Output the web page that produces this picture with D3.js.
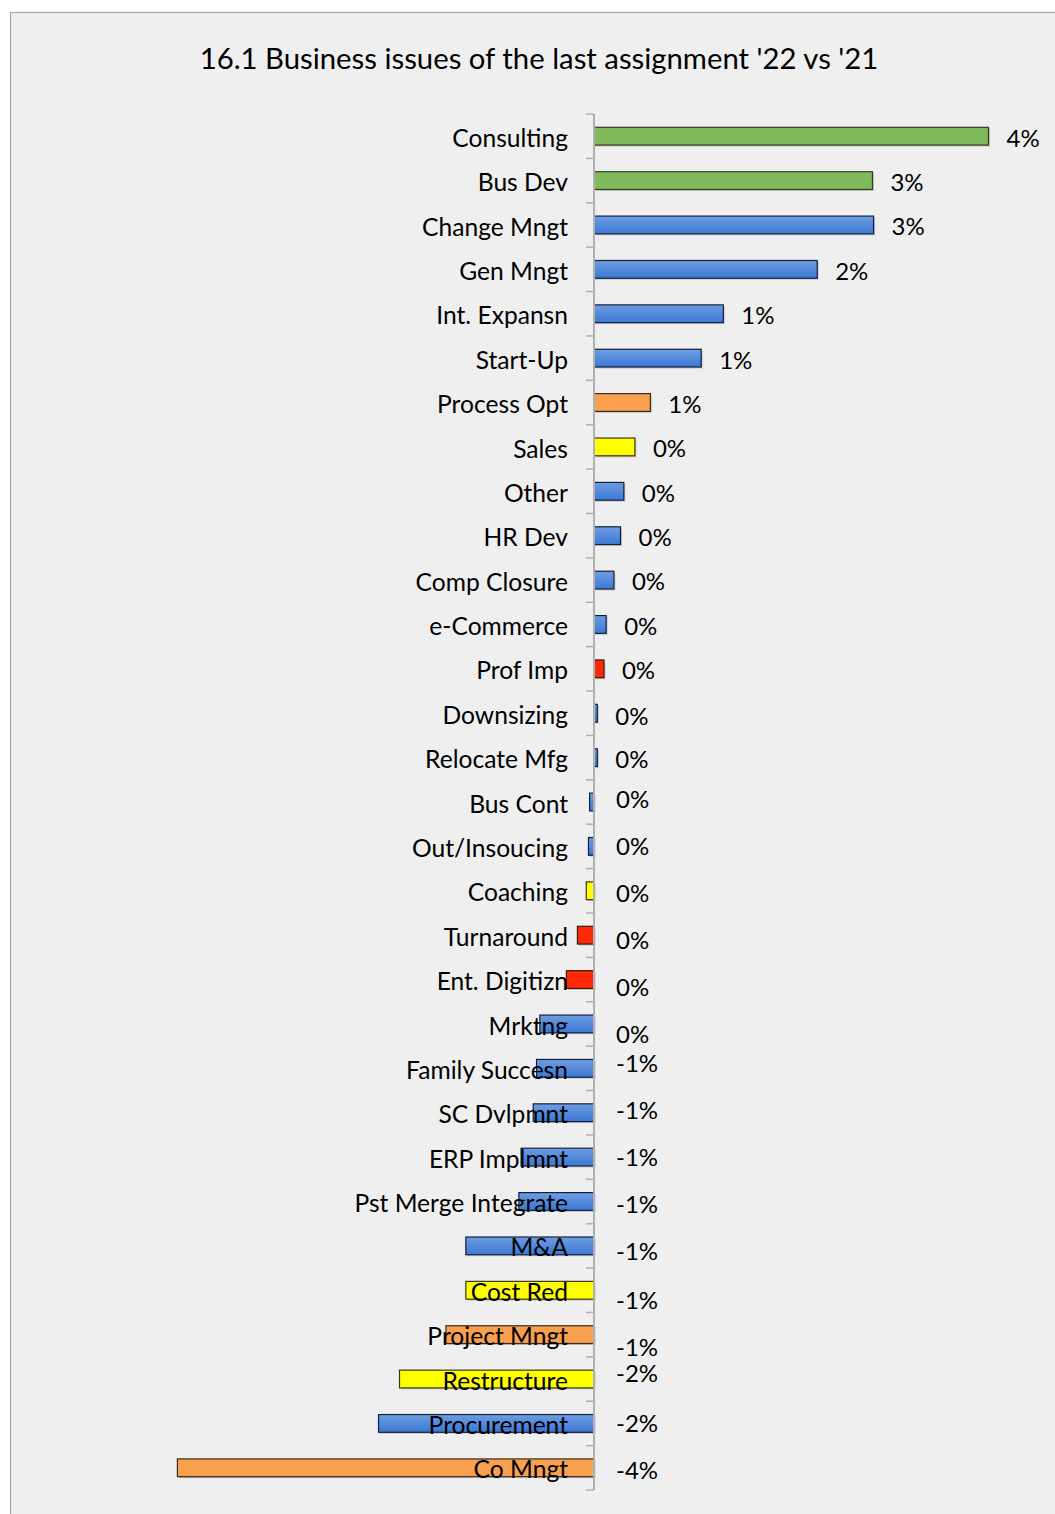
<!DOCTYPE html>
<html>
<head>
<meta charset="utf-8">
<script src="https://cdn.jsdelivr.net/npm/d3@7"></script>
<style>
  html, body { margin: 0; padding: 0; background: #ffffff; }
  svg { display: block; }
  text { font-family: Lato, "Open Sans", "Liberation Sans", sans-serif; fill: #000; }
</style>
</head>
<body>
<svg id="chart" width="1055" height="1514"></svg>
<script>
// Change in share of each business issue, 2022 vs 2021 (fraction of assignments)
const categories = [
  "Consulting", "Bus Dev", "Change Mngt", "Gen Mngt", "Int. Expansn", "Start-Up",
  "Process Opt", "Sales", "Other", "HR Dev", "Comp Closure", "e-Commerce",
  "Prof Imp", "Downsizing", "Relocate Mfg", "Bus Cont", "Out/Insoucing", "Coaching",
  "Turnaround", "Ent. Digitizn", "Mrktng", "Family Succesn", "SC Dvlpmnt", "ERP Implmnt",
  "Pst Merge Integrate", "M&A", "Cost Red", "Project Mngt", "Restructure", "Procurement",
  "Co Mngt"
];
const changes = [
  0.0357, 0.0252, 0.0253, 0.0202, 0.0117, 0.0097,
  0.0051, 0.0037, 0.0027, 0.0024, 0.0018, 0.0011,
  0.0009, 0.0003, 0.0003, -0.0004, -0.0005, -0.0007,
  -0.0015, -0.0025, -0.0049, -0.0052, -0.0055, -0.0066,
  -0.0068, -0.0116, -0.0116, -0.0134, -0.0176, -0.0195,
  -0.0377
];
// Colour group of each issue
const groups = [
  "green", "green", "blue", "blue", "blue", "blue",
  "orange", "yellow", "blue", "blue", "blue", "blue",
  "red", "blue", "blue", "blue", "blue", "yellow",
  "red", "red", "blue", "blue", "blue", "blue",
  "blue", "blue", "yellow", "orange", "yellow", "blue",
  "orange"
];
// Hand-placed vertical nudges of the value labels (px)
const labelNudge = [
  0, 0, 0, 0, 0, 0,
  0, 0, 0, 0, 0, 0,
  0, 1, 0, -4, -2, 1,
  3, 6, 9, -7, -4, -1,
  1, 4, 8, 11, -7, -2,
  1
];
const title = "16.1 Business issues of the last assignment '22 vs '21";

const rows = categories.map((c, i) => ({ cat: c, value: changes[i], group: groups[i], nudge: labelNudge[i] }));

const svg = d3.select("#chart");
const W = 1055, H = 1514;

// chart area with its frame
svg.append("rect")
  .attr("x", 10.5).attr("y", 12.5)
  .attr("width", W + 20).attr("height", H + 20)
  .attr("fill", "#efefef").attr("stroke", "#a9a9a9").attr("stroke-width", 1.2);

// title
svg.append("text")
  .attr("x", 539).attr("y", 69)
  .attr("text-anchor", "middle")
  .style("font-size", "29.3px")
  .text(title);

const defs = svg.append("defs");
const grad = defs.append("linearGradient").attr("id", "blueFill")
  .attr("x1", 0).attr("y1", 0).attr("x2", 0).attr("y2", 1);
grad.append("stop").attr("offset", "0%").attr("stop-color", "#6e9de1");
grad.append("stop").attr("offset", "100%").attr("stop-color", "#3c78d4");

const fillOf = d3.scaleOrdinal()
  .domain(["green", "blue", "orange", "yellow", "red"])
  .range(["#80b85c", "url(#blueFill)", "#f9a04f", "#ffff00", "#ff2a0a"]);
const strokeOf = d3.scaleOrdinal()
  .domain(["green", "blue", "orange", "yellow", "red"])
  .range(["#2f3d25", "#14213d", "#3a2a1a", "#3a3a10", "#3a1a10"]);

const y = d3.scaleBand()
  .domain(categories)
  .range([114, 1490])
  .paddingInner(0.6)
  .paddingOuter(0.3);

const x = d3.scaleLinear()
  .domain([-0.05, 0.04])
  .range([594 - 552.5, 594 + 442]);

const x0 = x(0);

// bars: soft shadow, then fill
const barG = svg.append("g");
barG.selectAll("rect.shadow")
  .data(rows)
  .join("rect")
  .attr("class", "shadow")
  .attr("x", d => Math.min(x(d.value), x0) + 1.5)
  .attr("y", d => y(d.cat) + 1.5)
  .attr("width", d => Math.abs(x(d.value) - x0))
  .attr("height", y.bandwidth())
  .attr("fill", "#000").attr("opacity", 0.18);

barG.selectAll("rect.bar")
  .data(rows)
  .join("rect")
  .attr("class", "bar")
  .attr("x", d => Math.min(x(d.value), x0))
  .attr("y", d => y(d.cat))
  .attr("width", d => Math.abs(x(d.value) - x0))
  .attr("height", y.bandwidth())
  .attr("fill", d => fillOf(d.group))
  .attr("stroke", d => strokeOf(d.group))
  .attr("stroke-width", 1.2);

// category axis: labels at band centres, ticks at band boundaries
const axis = svg.append("g")
  .attr("transform", `translate(${x0},0)`)
  .call(d3.axisLeft(y).tickSize(0).tickPadding(26));
axis.select(".domain").remove();
axis.selectAll(".tick text")
  .attr("dy", "0.35em")
  .attr("y", 2)
  .style("font-size", "24.6px")
  .style("font-family", "Lato, 'Open Sans', sans-serif")
  .attr("fill", "#000");

const boundaries = d3.range(categories.length + 1).map(i => y.range()[0] + i * y.step());
svg.append("g").selectAll("line")
  .data(boundaries)
  .join("line")
  .attr("x1", x0 - 8).attr("x2", x0)
  .attr("y1", d => d).attr("y2", d => d)
  .attr("stroke", "#b0b0b0").attr("stroke-width", 1.5);
svg.append("line")
  .attr("x1", x0).attr("x2", x0)
  .attr("y1", y.range()[0]).attr("y2", y.range()[1])
  .attr("stroke", "#b0b0b0").attr("stroke-width", 2);

// value labels, whole percent
const pct = v => { const r = Math.round(v * 100); return (r === 0 ? 0 : r) + "%"; };
svg.append("g").selectAll("text")
  .data(rows)
  .join("text")
  .attr("x", d => d.value > 0 ? x(d.value) + 18 : x0 + 22)
  .attr("y", d => y(d.cat) + y.bandwidth() / 2 + 2 + d.nudge)
  .attr("dy", "0.35em")
  .style("font-size", "24px")
  .text(d => pct(d.value));
</script>
</body>
</html>
